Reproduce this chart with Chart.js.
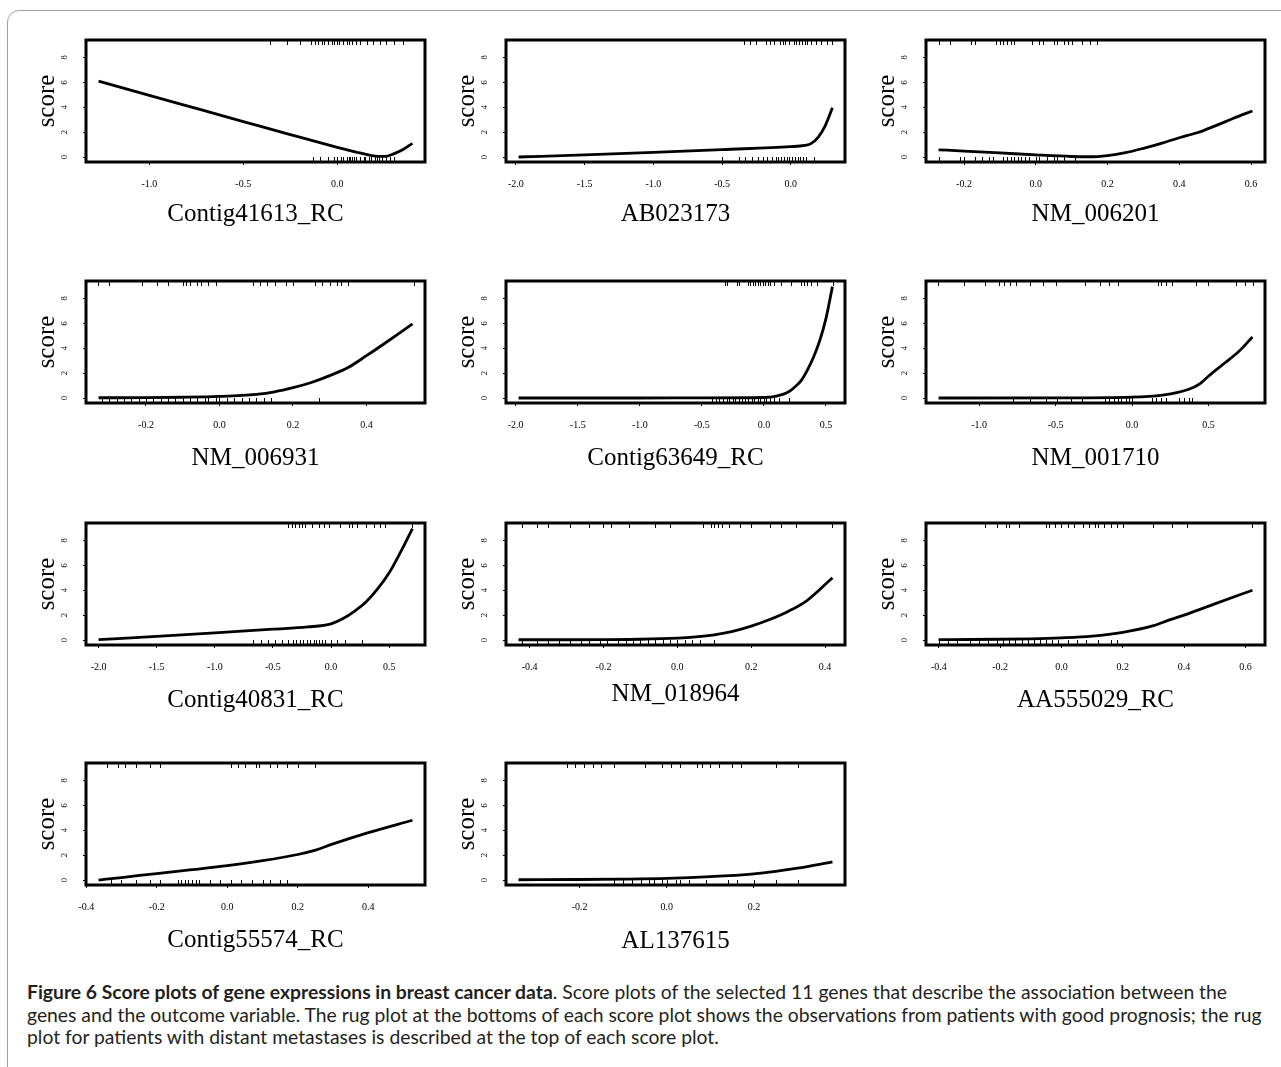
<!DOCTYPE html>
<html>
<head>
<meta charset="utf-8">
<script src="https://cdn.jsdelivr.net/npm/chart.js@4.4.1/dist/chart.umd.min.js"></script>
<style>
body{margin:0;background:#fff;width:1281px;height:1067px;overflow:hidden;position:relative;}
#frame{position:absolute;left:7px;top:10px;width:1320px;height:1100px;border:1.5px solid #a0a0a0;border-radius:12px;}
.pnl{position:absolute;}
#cap{position:absolute;left:27px;top:981px;font-family:Lato,'Open Sans',sans-serif;font-size:16px;line-height:22.6px;color:#231f20;white-space:nowrap;}
#cap div{white-space:nowrap;}
</style>
</head>
<body>
<div id="frame"></div>
<div id="plots"></div>
<div id="cap">
  <div id="cap1"><b>Figure 6 Score plots of gene expressions in breast cancer data</b>. Score plots of the selected 11 genes that describe the association between the</div>
  <div id="cap2">genes and the outcome variable. The rug plot at the bottoms of each score plot shows the observations from patients with good prognosis; the rug</div>
  <div>plot for patients with distant metastases is described at the top of each score plot.</div>
</div>
<script>
// ── DATA ──────────────────────────────────────────────────────────────────────
const genes=['Contig41613_RC','AB023173','NM_006201','NM_006931','Contig63649_RC','NM_001710',
             'Contig40831_RC','NM_018964','AA555029_RC','Contig55574_RC','AL137615'];

const yTickVals=[0,2,4,6,8];

const xTickVals=[
  [-1.0,-0.5,0.0],
  [-2.0,-1.5,-1.0,-0.5,0.0],
  [-0.2,0.0,0.2,0.4,0.6],
  [-0.2,0.0,0.2,0.4],
  [-2.0,-1.5,-1.0,-0.5,0.0,0.5],
  [-1.0,-0.5,0.0,0.5],
  [-2.0,-1.5,-1.0,-0.5,0.0,0.5],
  [-0.4,-0.2,0.0,0.2,0.4],
  [-0.4,-0.2,0.0,0.2,0.4,0.6],
  [-0.4,-0.2,0.0,0.2,0.4],
  [-0.2,0.0,0.2]
];

// score curve, x (expression) and y (score) per gene
const curveX=[
  [-1.27,-1.0,-0.75,-0.5,-0.25,0.0,0.1,0.17,0.22,0.26,0.3,0.35,0.40],
  [-1.98,-1.5,-1.0,-0.5,0.0,0.1,0.15,0.2,0.25,0.303],
  [-0.271,-0.2,-0.1,0.0,0.1,0.15,0.2,0.25,0.3,0.35,0.4,0.45,0.5,0.55,0.604],
  [-0.329,-0.2,-0.1,0.0,0.1,0.15,0.2,0.25,0.3,0.35,0.4,0.45,0.5,0.525],
  [-1.977,-1.0,-0.5,0.0,0.1,0.2,0.25,0.3,0.35,0.4,0.45,0.5,0.552],
  [-1.266,-0.5,0.0,0.2,0.3,0.4,0.45,0.5,0.6,0.7,0.788],
  [-2.0,-1.5,-1.0,-0.5,-0.2,0.0,0.1,0.2,0.3,0.4,0.5,0.6,0.7],
  [-0.43,-0.3,-0.2,-0.1,0.0,0.05,0.1,0.15,0.2,0.25,0.3,0.35,0.42],
  [-0.401,-0.3,-0.2,-0.1,0.0,0.1,0.2,0.3,0.35,0.4,0.5,0.623],
  [-0.365,-0.3,-0.2,-0.1,0.0,0.1,0.2,0.25,0.3,0.4,0.525],
  [-0.34,-0.2,-0.1,0.0,0.1,0.2,0.25,0.3,0.38]
];
const curveY=[
  [6.1,4.95,3.9,2.85,1.8,0.78,0.4,0.15,0.05,0.06,0.25,0.6,1.1],
  [0.0,0.18,0.38,0.6,0.83,0.93,1.1,1.6,2.5,3.95],
  [0.58,0.48,0.33,0.17,0.04,0.02,0.12,0.35,0.7,1.1,1.55,1.95,2.5,3.1,3.7],
  [0.02,0.03,0.06,0.13,0.3,0.5,0.83,1.25,1.8,2.45,3.4,4.4,5.43,5.95],
  [0.0,0.0,0.01,0.04,0.15,0.5,0.9,1.4,2.24,3.29,4.62,6.4,8.95],
  [0.0,0.01,0.07,0.23,0.45,0.85,1.2,1.75,2.75,3.75,4.9],
  [0.03,0.3,0.58,0.87,1.05,1.3,1.7,2.3,3.05,4.1,5.4,7.1,8.95],
  [0.02,0.02,0.03,0.06,0.15,0.25,0.42,0.7,1.12,1.65,2.3,3.15,5.0],
  [0.03,0.04,0.06,0.1,0.18,0.32,0.62,1.15,1.6,2.0,2.9,4.0],
  [0.0,0.2,0.52,0.83,1.15,1.55,2.05,2.4,2.9,3.8,4.8],
  [0.02,0.04,0.07,0.13,0.27,0.5,0.7,0.95,1.45]
];

// rug at top: patients with distant metastases
const rugTop=[
  [-0.36,-0.27,-0.2,-0.14,-0.12,-0.1,-0.08,-0.07,-0.05,-0.03,-0.02,0.0,0.01,0.03,0.05,0.06,0.08,0.1,0.12,0.16,0.19,0.23,0.26,0.3,0.35],
  [-0.34,-0.3,-0.25,-0.18,-0.15,-0.12,-0.08,-0.06,-0.04,-0.01,0.02,0.04,0.06,0.08,0.1,0.12,0.15,0.18,0.22,0.26,0.3],
  [-0.27,-0.24,-0.18,-0.17,-0.11,-0.1,-0.09,-0.08,-0.07,-0.06,-0.01,0.01,0.02,0.05,0.06,0.08,0.09,0.1,0.13,0.15,0.17],
  [-0.33,-0.3,-0.21,-0.17,-0.14,-0.1,-0.09,-0.08,-0.06,-0.05,-0.03,-0.01,0.09,0.11,0.13,0.15,0.18,0.2,0.26,0.28,0.3,0.32,0.33,0.35,0.53],
  [-0.31,-0.3,-0.22,-0.2,-0.13,-0.11,-0.09,-0.07,-0.05,-0.03,-0.01,0.01,0.03,0.05,0.08,0.14,0.22,0.3,0.32,0.35,0.38,0.43,0.56],
  [-1.27,-1.1,-0.96,-0.87,-0.84,-0.8,-0.76,-0.67,-0.58,-0.5,-0.31,-0.21,-0.15,-0.09,0.17,0.19,0.22,0.26,0.42,0.5,0.68,0.74,0.79],
  [-0.37,-0.34,-0.31,-0.28,-0.25,-0.22,-0.16,-0.1,-0.06,-0.02,0.08,0.15,0.18,0.22,0.3,0.37,0.42,0.46,0.7],
  [-0.42,-0.38,-0.35,-0.29,-0.24,-0.2,-0.18,-0.13,-0.06,-0.02,0.07,0.09,0.1,0.11,0.12,0.14,0.17,0.2,0.25,0.28,0.32,0.42],
  [-0.25,-0.21,-0.18,-0.17,-0.14,-0.05,-0.04,-0.02,0.0,0.02,0.04,0.07,0.09,0.11,0.12,0.14,0.16,0.18,0.2,0.3,0.36,0.41,0.62],
  [-0.34,-0.31,-0.29,-0.26,-0.22,-0.19,0.01,0.03,0.05,0.08,0.09,0.12,0.14,0.17,0.2,0.25],
  [-0.23,-0.21,-0.19,-0.17,-0.15,-0.12,-0.05,-0.01,0.01,0.03,0.07,0.08,0.1,0.12,0.15,0.17,0.25,0.3]
];
// rug at bottom: patients with good prognosis
const rugBot=[
  [-0.13,-0.09,-0.05,-0.02,0.0,0.02,0.03,0.05,0.06,0.07,0.08,0.09,0.1,0.12,0.14,0.15,0.17,0.18,0.2,0.21,0.22,0.24,0.26,0.28,0.3],
  [-0.5,-0.38,-0.33,-0.28,-0.24,-0.2,-0.17,-0.14,-0.11,-0.09,-0.07,-0.05,-0.03,-0.01,0.01,0.03,0.05,0.07,0.09,0.11,0.17],
  [-0.27,-0.21,-0.2,-0.17,-0.15,-0.13,-0.12,-0.09,-0.08,-0.07,-0.06,-0.05,-0.04,-0.03,-0.02,0.0,0.01,0.03,0.05,0.06,0.08,0.11],
  [-0.32,-0.3,-0.28,-0.26,-0.24,-0.22,-0.2,-0.18,-0.16,-0.14,-0.12,-0.1,-0.08,-0.06,-0.04,-0.03,-0.01,0.0,0.02,0.04,0.06,0.08,0.1,0.12,0.14,0.27],
  [-0.42,-0.39,-0.36,-0.33,-0.3,-0.28,-0.25,-0.23,-0.2,-0.18,-0.15,-0.13,-0.1,-0.08,-0.05,-0.03,0.0,0.02,0.05,0.08,0.12,0.2],
  [-0.78,-0.67,-0.56,-0.49,-0.4,-0.33,-0.18,-0.15,-0.12,-0.09,-0.07,-0.04,-0.02,0.0,0.13,0.16,0.19,0.22,0.31,0.34,0.37,0.39],
  [-0.67,-0.6,-0.54,-0.48,-0.42,-0.37,-0.33,-0.3,-0.27,-0.24,-0.21,-0.18,-0.15,-0.13,-0.1,-0.08,-0.05,0.0,0.05,0.12,0.27],
  [-0.42,-0.38,-0.35,-0.32,-0.29,-0.26,-0.24,-0.21,-0.19,-0.16,-0.14,-0.12,-0.1,-0.08,-0.06,-0.04,-0.02,0.0,0.02,0.04,0.06,0.1],
  [-0.4,-0.37,-0.34,-0.3,-0.27,-0.24,-0.21,-0.19,-0.17,-0.15,-0.13,-0.11,-0.09,-0.07,-0.05,-0.03,-0.01,0.02,0.05,0.08,0.12,0.16,0.18],
  [-0.33,-0.3,-0.26,-0.22,-0.19,-0.14,-0.13,-0.12,-0.11,-0.1,-0.09,-0.08,-0.05,-0.02,0.01,0.04,0.07,0.1,0.12,0.15,0.17],
  [-0.12,-0.1,-0.08,-0.06,-0.04,-0.03,-0.01,0.0,0.02,0.03,0.05,0.09,0.14,0.16,0.2,0.25,0.3]
];

// ── LAYOUT ────────────────────────────────────────────────────────────────────
const BOX_L=[86,506,926], BOX_T=[40,281,523,763];
const BOX_W=339, BOX_H=122;
const YW=60, XH=75, PT=4, PR=4;
const LBL_OFF=[52,52,52, 55,55,55, 55,49,55, 55,56];   // gene label centre below box
const SERIF='"Liberation Serif","Times New Roman",serif';

function rugBox(i){
  return {
    id:'rugBox'+i,
    afterDraw(chart){
      const {ctx, chartArea:a, scales:{x}} = chart;
      ctx.save();
      ctx.strokeStyle='#000'; ctx.lineWidth=1;
      ctx.beginPath();
      rugTop[i].forEach(v=>{const p=Math.round(x.getPixelForValue(v))+0.5; ctx.moveTo(p,a.top); ctx.lineTo(p,a.top+5);});
      rugBot[i].forEach(v=>{const p=Math.round(x.getPixelForValue(v))+0.5; ctx.moveTo(p,a.bottom); ctx.lineTo(p,a.bottom-5);});
      ctx.stroke();
      ctx.lineWidth=3;
      ctx.strokeRect(a.left,a.top,a.right-a.left,a.bottom-a.top);
      ctx.restore();
    }
  };
}

function mkPanel(i){
  const col=i%3, row=Math.floor(i/3);
  const wrap=document.createElement('div');
  wrap.className='pnl';
  const W=YW+BOX_W+PR, H=PT+BOX_H+XH;
  wrap.style.left=(BOX_L[col]-YW)+'px';
  wrap.style.top=(BOX_T[row]-PT)+'px';
  wrap.style.width=W+'px'; wrap.style.height=H+'px';
  const cv=document.createElement('canvas');
  cv.width=W; cv.height=H;
  wrap.appendChild(cv);
  document.getElementById('plots').appendChild(wrap);

  const xs=curveX[i], ys=curveY[i];
  const span=xs[xs.length-1]-xs[0];
  return new Chart(cv,{
    type:'scatter',
    data:{datasets:[{
      data:xs.map((x,k)=>({x,y:ys[k]})),
      showLine:true,borderColor:'#000',borderWidth:2.8,pointRadius:0,
      cubicInterpolationMode:'monotone',tension:0.4
    }]},
    options:{
      responsive:false,animation:false,events:[],
      layout:{padding:{top:PT,right:PR,left:0,bottom:0}},
      plugins:{legend:{display:false},tooltip:{enabled:false}},
      scales:{
        x:{
          type:'linear',min:xs[0]-0.04*span,max:xs[xs.length-1]+0.04*span,
          afterBuildTicks:s=>{s.ticks=xTickVals[i].map(v=>({value:v}));},
          ticks:{callback:v=>v.toFixed(1),font:{family:SERIF,size:10},color:'#000',padding:13,maxRotation:0,autoSkip:false},
          grid:{drawOnChartArea:false,tickLength:3,color:'#000',lineWidth:1},
          border:{display:false},
          title:{display:true,text:genes[i],color:'#000',font:{family:SERIF,size:25,lineHeight:1.2},
                 padding:{top:0,bottom:XH-15-LBL_OFF[i]}},
          afterFit:s=>{s.height=XH;s.paddingLeft=0;s.paddingRight=0;}
        },
        y:{
          min:-0.4,max:9.4,
          afterBuildTicks:s=>{s.ticks=yTickVals.map(v=>({value:v}));},
          ticks:{minRotation:90,maxRotation:90,crossAlign:'center',padding:16,color:'#000',
                 font:{family:SERIF,size:8.5},callback:v=>String(v)},
          grid:{drawOnChartArea:false,tickLength:3,color:'#000',lineWidth:1},
          border:{display:false},
          title:{display:true,text:'score',color:'#000',font:{family:SERIF,size:25,lineHeight:1.2},padding:{top:6,bottom:0}},
          afterFit:s=>{s.width=YW;s.paddingTop=0;s.paddingBottom=0;}
        }
      }
    },
    plugins:[rugBox(i)]
  });
}

genes.forEach((g,i)=>mkPanel(i));

// fit caption so its two long lines span the page like the reference
(function(){
  const cap=document.getElementById('cap');
  const wOf=id=>{const r=document.createRange(); r.selectNodeContents(document.getElementById(id)); return r.getBoundingClientRect().width;};
  const fs=parseFloat(getComputedStyle(cap).fontSize);
  const k=Math.min(1232/wOf('cap1'), 1235/wOf('cap2'));
  cap.style.fontSize=(fs*k).toFixed(2)+'px';
})();
</script>
</body>
</html>
